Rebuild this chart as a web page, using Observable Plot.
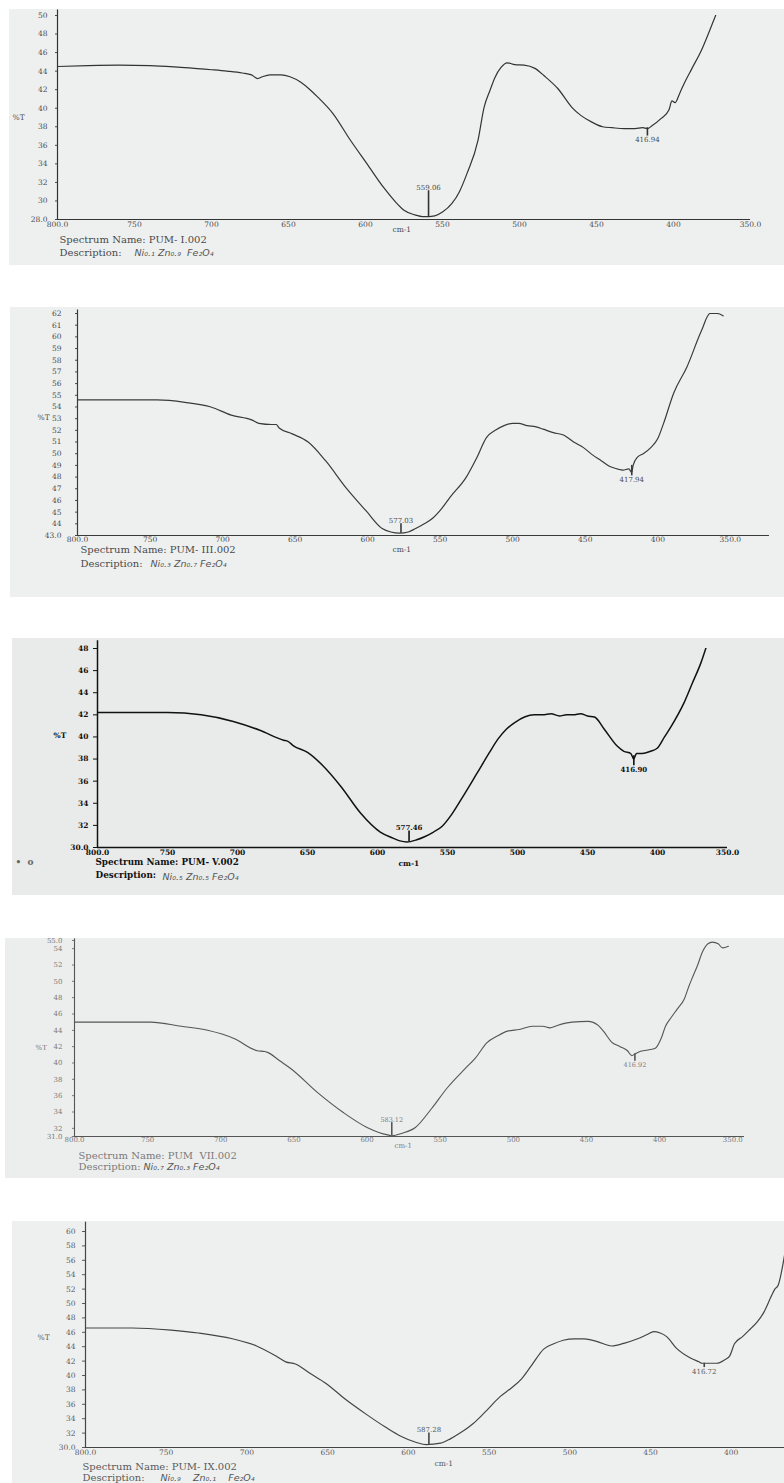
<!DOCTYPE html>
<html>
<head>
<meta charset="utf-8">
<script src="https://cdn.jsdelivr.net/npm/d3@7"></script>
<script src="https://cdn.jsdelivr.net/npm/@observablehq/plot@0.6"></script>
<style>
  html, body { margin: 0; padding: 0; background: #fff; }
  #page { position: relative; width: 784px; height: 1483px; overflow: hidden; background: #fff; }
  .bg { position: absolute; }
  .panel { position: absolute; left: 0; }
  .panel svg { overflow: visible; }
</style>
</head>
<body>
<div id="page"></div>
<script>
// ---------- Panel 1 : PUM- I.002 ----------
const p1Wn = [800,780,760,740,720,700,690,680,674,670,667,662,655,649,642,636,631,621,610,599,588,580,575,568,562,555,550,544,539,534,527,523,519,516,512,508,503,497,490,484,475,466,460,453,446,440,432,425,420,417,414,408,403,401,399,396,393,388,382,376,371];
const p1T  = [44.5,44.6,44.65,44.6,44.4,44.15,44.0,43.8,43.6,43.2,43.4,43.6,43.6,43.4,42.8,42.0,41.2,39.4,36.6,34.0,31.4,29.8,29.0,28.5,28.3,28.4,28.8,29.7,31.0,33.0,36.5,40.1,42.0,43.3,44.4,44.9,44.7,44.65,44.3,43.5,42.1,40.1,39.2,38.5,38.0,37.9,37.8,37.8,37.9,37.8,38.1,38.9,39.8,40.8,40.6,41.6,42.7,44.3,46.2,48.6,50.7];
const p1PeakWn = [559.06, 416.94];
const p1PeakBase = [28.3, 37.9];
const p1PeakTip = [31.1, 37.0];
const p1YTicks = [28,30,32,34,36,38,40,42,44,46,48,50];
const p1YLabels = ["28.0","30","32","34","36","38","40","42","44","46","48","50"];
const p1XTicks = [800,750,700,650,600,550,500,450,400,350];
const p1XLabels = ["800.0","750","700","650","600","550","500","450","400","350.0"];

// ---------- Panel 2 : PUM- III.002 ----------
const p2Wn = [800,760,745,726,708,694,680,675,666,663,661,652,641,629,615,601,590,584,578,572,567,561,555,549,543,532,525,518,512,506,500,496,490,484,479,472,465,458,451,445,439,433,428,424,420,418,417,414,410,405,400,396,389,380,370,364,359,355];
const p2T  = [54.6,54.6,54.6,54.4,54.0,53.3,52.9,52.6,52.5,52.5,52.2,51.7,51.0,49.4,47.1,45.1,43.6,43.3,43.2,43.3,43.6,44.0,44.5,45.3,46.3,48.0,49.6,51.4,52.0,52.4,52.6,52.6,52.4,52.3,52.1,51.8,51.6,51.0,50.5,49.9,49.4,48.9,48.7,48.6,48.7,48.4,49.0,49.7,50.0,50.5,51.3,52.6,55.2,57.4,60.5,62.0,62.0,61.8];
const p2PeakWn = [577.03, 417.94];
const p2PeakBase = [43.2, 49.0];
const p2PeakTip = [44.0, 48.1];
const p2YTicks = [43,44,45,46,47,48,49,50,51,52,53,54,55,56,57,58,59,60,61,62];
const p2YLabels = ["43.0","44","45","46","47","48","49","50","51","52","53","54","55","56","57","58","59","60","61","62"];
const p2XTicks = [800,750,700,650,600,550,500,450,400,350];
const p2XLabels = ["800.0","750","700","650","600","550","500","450","400","350.0"];

// ---------- Panel 3 : PUM- V.002 ----------
const p3Wn = [800,770,750,726,703,684,667,664,660,650,639,626,612,598,590,584,579,572,566,560,554,547,540,529,520,514,508,502,495,488,482,476,470,465,460,455,450,445,438,429,424,419,417,415,411,405,400,395,390,381,375,369,364];
const p3T  = [42.2,42.2,42.2,42.0,41.4,40.6,39.7,39.6,39.2,38.6,37.4,35.5,33.1,31.4,30.9,30.6,30.5,30.7,31.0,31.4,31.9,33.0,34.4,36.7,38.6,39.8,40.7,41.3,41.8,42.0,42.0,42.1,41.9,42.0,42.0,42.1,41.9,41.8,40.7,39.2,38.7,38.5,38.0,38.5,38.5,38.7,39.0,40.0,41.0,43.1,44.9,46.7,48.6];
const p3PeakWn = [577.46, 416.90];
const p3PeakBase = [30.5, 38.3];
const p3PeakTip = [31.5, 37.4];
const p3YTicks = [30,32,34,36,38,40,42,44,46,48];
const p3YLabels = ["30.0","32","34","36","38","40","42","44","46","48"];
const p3XTicks = [800,750,700,650,600,550,500,450,400,350];
const p3XLabels = ["800.0","750","700","650","600","550","500","450","400","350.0"];

// ---------- Panel 4 : PUM VII.002 ----------
const p4Wn = [800,775,748,727,709,691,675,670,668,660,652,634,616,600,592,586,583,576,567,556,545,533,526,518,511,504,496,487,480,475,470,460,449,442,438,433,427,422,419,417,415,408,403,399,396,392,388,383,380,378,374,371,367,364,360,357,353];
const p4T  = [45.0,45.0,45.0,44.5,44.0,43.0,41.5,41.4,41.3,40.3,39.3,36.4,33.9,32.1,31.5,31.2,31.1,31.4,32.1,34.4,37.0,39.3,40.6,42.5,43.3,43.9,44.1,44.5,44.5,44.3,44.6,45.0,45.1,44.6,43.8,42.6,42.0,41.5,40.9,41.1,41.3,41.6,41.8,43.0,44.5,45.6,46.6,47.9,49.4,50.3,52.0,53.5,54.6,54.8,54.6,54.1,54.3];
const p4PeakWn = [583.12, 416.92];
const p4PeakBase = [31.1, 41.1];
const p4PeakTip = [32.7, 40.2];
const p4YTicks = [31,32,34,36,38,40,42,44,46,48,50,52,54,55];
const p4YLabels = ["31.0","32","34","36","38","40","42","44","46","48","50","52","54","55.0"];
const p4XTicks = [800,750,700,650,600,550,500,450,400,350];
const p4XLabels = ["800.0","750","700","650","600","550","500","450","400","350.0"];

// ---------- Panel 5 : PUM- IX.002 ----------
const p5Wn = [800,771,747,730,709,694,682,676,670,661,651,639,626,614,605,595,589,580,574,568,560,553,543,536,530,524,516,510,504,497,491,483,474,466,458,452,448,444,440,434,425,420,418,414,409,404,401,398,393,388,384,380,375,373,371,367];
const p5T  = [46.6,46.6,46.3,45.9,45.1,44.1,42.7,41.9,41.6,40.3,38.9,36.7,34.6,32.8,31.6,30.7,30.4,30.6,31.2,32.0,33.3,34.8,37.1,38.3,39.5,41.3,43.7,44.4,44.9,45.1,45.1,44.7,44.1,44.5,45.1,45.7,46.1,45.9,45.4,43.8,42.4,41.9,41.7,41.7,41.7,42.2,42.7,44.4,45.4,46.5,47.4,48.7,51.1,52.0,52.5,56.7];
const p5PeakWn = [587.28, 416.72];
const p5PeakBase = [30.4, 41.7];
const p5PeakTip = [32.0, 41.1];
const p5YTicks = [30,32,34,36,38,40,42,44,46,48,50,52,54,56,58,60];
const p5YLabels = ["30.0","32","34","36","38","40","42","44","46","48","50","52","54","56","58","60"];
const p5XTicks = [800,750,700,650,600,550,500,450,400];
const p5XLabels = ["800.0","750","700","650","600","550","500","450","400"];

// ---------- texts ----------
const spectrumNames = ["Spectrum Name: PUM- I.002","Spectrum Name: PUM- III.002","Spectrum Name: PUM- V.002","Spectrum Name: PUM  VII.002","Spectrum Name: PUM- IX.002"];
const formulas = ["Ni\u2080.\u2081 Zn\u2080.\u2089  Fe\u2082O\u2084","Ni\u2080.\u2083 Zn\u2080.\u2087 Fe\u2082O\u2084","Ni\u2080.\u2085 Zn\u2080.\u2085 Fe\u2082O\u2084","Ni\u2080.\u2087 Zn\u2080.\u2083 Fe\u2082O\u2084","Ni\u2080.\u2089    Zn\u2080.\u2081    Fe\u2082O\u2084"];

// ---------- layout (page pixels) ----------
const panels = [
  {wn:p1Wn, t:p1T, pw:p1PeakWn, pb:p1PeakBase, pt:p1PeakTip, yt:p1YTicks, yl:p1YLabels, xt:p1XTicks, xl:p1XLabels,
   top:9, bottom:265, bgLeft:9, bg:"#eef0f0", mL:57, mR:34, fTop:15, fBot:219, xDom:[800,350], yDom:[28,50], axTop:50.6,
   ytSize:2, ytPad:8, xtPad:2, tickFont:7.5, textFont:10, weight:"normal", tcolor:"#4a4a4a", lcolor:"#333", lw:1.2,
   pT:[12,117], pCm:[392,229], pName:[59,239], pDesc:[59,252], pForm:[134,252]},
  {wn:p2Wn, t:p2T, pw:p2PeakWn, pb:p2PeakBase, pt:p2PeakTip, yt:p2YTicks, yl:p2YLabels, xt:p2XTicks, xl:p2XLabels,
   top:307, bottom:597, bgLeft:10, bg:"#eef0f0", mL:77, mR:15, fTop:313, fBot:535, xDom:[800,323], yDom:[43,62], axTop:62.3,
   ytSize:2, ytPad:14, xtPad:1, tickFont:7.5, textFont:10, weight:"normal", tcolor:"#4a4a4a", lcolor:"#3a3a3a", lw:1.2,
   pT:[37,417], pCm:[392,549], pName:[80,549], pDesc:[80,563], pForm:[150,563]},
  {wn:p3Wn, t:p3T, pw:p3PeakWn, pb:p3PeakBase, pt:p3PeakTip, yt:p3YTicks, yl:p3YLabels, xt:p3XTicks, xl:p3XLabels,
   top:638, bottom:895, bgLeft:12, bg:"#e9ebea", mL:97, mR:57, fTop:648, fBot:847, xDom:[800,350], yDom:[30,48], axTop:48.7,
   ytSize:4, ytPad:5, xtPad:2, tickFont:7.5, textFont:8.8, weight:"bold", tcolor:"#111", lcolor:"#111", lw:1.5,
   pT:[53,735], pCm:[398,863], pName:[95,862], pDesc:[95,875], pForm:[162,876], extra:["\u2022  o",[15,862]]},
  {wn:p4Wn, t:p4T, pw:p4PeakWn, pb:p4PeakBase, pt:p4PeakTip, yt:p4YTicks, yl:p4YLabels, xt:p4XTicks, xl:p4XLabels,
   top:938, bottom:1178, bgLeft:5, bg:"#eceeee", mL:74, mR:40, fTop:940, fBot:1136, xDom:[800,342], yDom:[31,55], axTop:55.2,
   ytSize:2, ytPad:10, xtPad:1, tickFont:7, textFont:10, weight:"normal", tcolor:"#7a7a7a", lcolor:"#555", lw:1.1,
   pT:[35,1047], pCm:[394,1145], pName:[78,1155], pDesc:[78,1166], pForm:[143,1166]},
  {wn:p5Wn, t:p5T, pw:p5PeakWn, pb:p5PeakBase, pt:p5PeakTip, yt:p5YTicks, yl:p5YLabels, xt:p5XTicks, xl:p5XLabels,
   top:1221, bottom:1483, bgLeft:12, bg:"#eef0f0", mL:85, mR:0, fTop:1231, fBot:1447, xDom:[800,367], yDom:[30,60], axTop:61.3,
   ytSize:3, ytPad:7, xtPad:2, tickFont:7.5, textFont:10, weight:"normal", tcolor:"#5a5a5a", lcolor:"#444", lw:1.2,
   pT:[37,1337], pCm:[434,1463], pName:[82,1466], pDesc:[82,1477], pForm:[160,1477]}
];

const page = document.getElementById("page");
const SERIF = "'DejaVu Serif', 'Liberation Serif', serif";

panels.forEach((p, k) => {
  const bg = document.createElement("div");
  bg.className = "bg";
  bg.style.left = p.bgLeft + "px";
  bg.style.top = p.top + "px";
  bg.style.width = (784 - p.bgLeft) + "px";
  bg.style.height = (p.bottom - p.top) + "px";
  bg.style.background = p.bg;
  page.appendChild(bg);

  const curve = p.wn.map((w, i) => ({wn: w, t: p.t[i]}));
  const peaks = p.pw.map((w, i) => ({wn: w, base: p.pb[i], tip: p.pt[i], label: w.toFixed(2), up: p.pt[i] > p.pb[i]}));
  const yLab = new Map(p.yt.map((v, i) => [v, p.yl[i]]));
  const xLab = new Map(p.xt.map((v, i) => [v, p.xl[i]]));

  const note = (pos, text, o = {}) => Plot.text([text], {
    frameAnchor: "top-left", dx: pos[0] - p.mL, dy: pos[1] - p.fTop,
    text: d => d, textAnchor: "start", lineAnchor: "middle",
    fontSize: p.textFont, fill: p.tcolor, fontWeight: p.weight, ...o
  });

  const marks = [
    Plot.axisY({ticks: p.yt, tickFormat: d => yLab.get(d), tickSize: p.ytSize, tickPadding: p.ytPad,
      fontSize: p.tickFont, fill: p.tcolor, stroke: p.tcolor, label: null, fontWeight: p.weight}),
    Plot.axisX({ticks: p.xt, tickFormat: d => xLab.get(d), tickSize: 0, tickPadding: p.xtPad,
      fontSize: p.tickFont, fill: p.tcolor, label: null, fontWeight: p.weight}),
    Plot.ruleX([p.xDom[0]], {y1: p.yDom[0], y2: p.axTop, stroke: p.lcolor, strokeWidth: p.lw}),
    Plot.ruleY([p.yDom[0]], {stroke: p.lcolor, strokeWidth: p.lw}),
    Plot.line(curve, {x: "wn", y: "t", stroke: p.lcolor, strokeWidth: p.lw, curve: "monotone-x", clip: true}),
    Plot.ruleX(peaks, {x: "wn", y1: "base", y2: "tip", stroke: p.lcolor, strokeWidth: 1.6}),
    Plot.text(peaks.filter(d => d.up), {x: "wn", y: "tip", text: "label", lineAnchor: "bottom", dy: -1,
      fontSize: p.tickFont - 0.5, fill: p.tcolor, fontWeight: p.weight}),
    Plot.text(peaks.filter(d => !d.up), {x: "wn", y: "tip", text: "label", lineAnchor: "top", dy: 1,
      fontSize: p.tickFont - 0.5, fill: p.tcolor, fontWeight: p.weight}),
    note(p.pT, "%T", {fontSize: p.tickFont}),
    note(p.pCm, "cm-1", {fontSize: p.tickFont}),
    note(p.pName, spectrumNames[k]),
    note(p.pDesc, "Description:"),
    note(p.pForm, formulas[k], {fontFamily: "DejaVu Sans", fontWeight: "normal", fontStyle: "italic", fontSize: 9.5, fill: "#555"})
  ];
  if (p.extra) marks.push(note(p.extra[1], p.extra[0], {fontSize: 9, fill: "#666"}));

  const chart = Plot.plot({
    width: 784,
    height: p.bottom - p.top,
    marginLeft: p.mL,
    marginRight: p.mR,
    marginTop: p.fTop - p.top,
    marginBottom: p.bottom - p.fBot,
    x: {domain: p.xDom},
    y: {domain: p.yDom},
    style: {background: "transparent", fontFamily: SERIF, color: p.tcolor},
    marks
  });
  const wrap = document.createElement("div");
  wrap.className = "panel";
  wrap.style.top = p.top + "px";
  wrap.appendChild(chart);
  page.appendChild(wrap);
});
</script>
</body>
</html>
